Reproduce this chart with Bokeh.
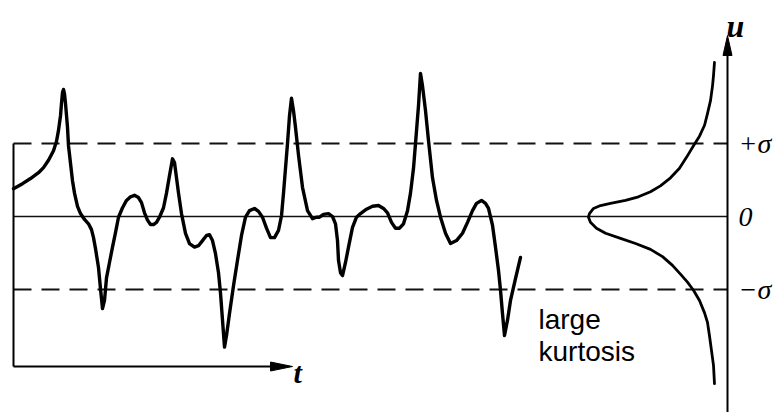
from bokeh.plotting import figure
from bokeh.models import Range1d
from bokeh.embed import file_html
from bokeh.resources import INLINE
from bokeh.core.properties import value

# ---- data (signal u(t); t in drawing units, u in units of sigma) ----
sig_t = [13, 22, 30, 38, 43, 48, 53, 56, 58, 60,
         61, 62, 63, 64, 65, 67, 68, 70, 72, 74,
         77, 80, 84, 88, 91, 93, 95, 98, 100, 102,
         104, 106, 109, 112, 115, 118, 122, 126, 130, 134,
         138, 141, 144, 147, 150, 153, 156, 159, 163, 166,
         169, 172, 174, 176, 178, 181, 185, 189, 194, 198,
         202, 206, 209, 212, 215, 218, 220, 222, 224, 226,
         229, 233, 237, 241, 245, 249, 254, 258, 262, 266,
         270, 274, 278, 281, 283, 285, 287, 289, 291, 293,
         295, 298, 302, 307, 312, 316, 319, 323, 328, 332,
         335, 337, 338, 340, 342, 345, 348, 352, 356, 360,
         366, 372, 378, 383, 387, 391, 395, 399, 403, 407,
         410, 413, 415, 418, 420, 422, 425, 428, 432, 436,
         440, 445, 450, 456, 462, 467, 472, 476, 481, 485,
         488, 492, 495, 498, 500, 502, 504, 507, 510, 515,
         520]
sig_u = [0.38, 0.45, 0.52, 0.60, 0.67, 0.77, 0.90, 1.03, 1.18, 1.38,
         1.55, 1.70, 1.74, 1.68, 1.55, 1.22, 0.97, 0.73, 0.49, 0.32,
         0.14, 0.04, -0.04, -0.10, -0.18, -0.29, -0.44, -0.70, -0.99, -1.26,
         -1.15, -0.84, -0.63, -0.42, -0.22, -0.01, 0.12, 0.22, 0.27, 0.29,
         0.26, 0.19, 0.05, -0.05, -0.11, -0.11, -0.08, -0.01, 0.12, 0.32,
         0.56, 0.79, 0.74, 0.53, 0.32, 0.04, -0.23, -0.37, -0.42, -0.40,
         -0.33, -0.26, -0.25, -0.33, -0.51, -0.77, -1.05, -1.42, -1.79, -1.63,
         -1.33, -0.95, -0.60, -0.26, -0.01, 0.08, 0.11, 0.07, -0.01, -0.16,
         -0.29, -0.29, -0.19, 0.01, 0.32, 0.66, 1.00, 1.38, 1.62, 1.45,
         1.22, 0.84, 0.40, 0.08, -0.03, -0.01, -0.01, 0.03, 0.04, 0.00,
         -0.10, -0.33, -0.60, -0.77, -0.81, -0.63, -0.42, -0.15, -0.01, 0.04,
         0.10, 0.14, 0.15, 0.11, 0.05, -0.08, -0.16, -0.16, -0.10, 0.08,
         0.32, 0.66, 1.00, 1.52, 1.96, 1.79, 1.45, 1.04, 0.53, 0.22,
         -0.01, -0.23, -0.37, -0.33, -0.23, -0.08, 0.08, 0.18, 0.22, 0.18,
         0.11, -0.12, -0.42, -0.74, -1.01, -1.33, -1.63, -1.42, -1.15, -0.85,
         -0.56]

# probability density of u (relative, peak = 1)
pdf_u = [2.11, 1.93, 1.79, 1.59, 1.41, 1.25, 1.10, 0.97, 0.81, 0.66,
         0.53, 0.42, 0.34, 0.27, 0.22, 0.18, 0.15, 0.11, 0.04, -0.01,
         -0.08, -0.16, -0.23, -0.30, -0.37, -0.45, -0.55, -0.67, -0.79, -0.90,
         -1.01, -1.15, -1.32, -1.45, -1.63, -1.84, -2.04, -2.29]
pdf_p = [0.093, 0.100, 0.107, 0.121, 0.143, 0.164, 0.200, 0.243, 0.293, 0.343,
         0.407, 0.479, 0.550, 0.636, 0.729, 0.836, 0.907, 0.957, 0.986, 0.993,
         0.979, 0.936, 0.871, 0.764, 0.657, 0.550, 0.464, 0.393, 0.336, 0.286,
         0.243, 0.200, 0.164, 0.143, 0.129, 0.114, 0.100, 0.093]

sigma_levels = [1.0, -1.0]
level_labels = ["+σ", "0", "−σ"]
level_values = [1.0, 0.0, -1.0]

# ---- layout constants ----
W, H = 774, 412
PX = 73.0                 # pixels per sigma
U_TOP = 216 / PX
U_BOT = (216 - H) / PX
T0, T_END = 13, 292       # time axis
U_AXIS_X = 727            # u axis position
PDF_SCALE = 140           # width of pdf at peak
T_AXIS_U = (216 - 366) / PX

p = figure(width=W, height=H, output_backend="svg", toolbar_location=None,
           x_range=Range1d(0, W), y_range=Range1d(U_BOT, U_TOP), min_border=0,
           x_axis_location=None, y_axis_location=None)
p.grid.visible = False
p.outline_line_color = None
p.background_fill_color = "white"
p.border_fill_color = "white"

# sigma lines (dashed) and zero line
for s in sigma_levels:
    p.line([T0, U_AXIS_X], [s, s], line_color="#111111", line_width=2, line_dash="18 10")
p.line([T0, U_AXIS_X], [0, 0], line_color="#111111", line_width=1.6)

# left frame and time axis
p.line([T0, T0], [T_AXIS_U, 1.0], line_color="black", line_width=2)
p.line([T0, T_END - 16], [T_AXIS_U, T_AXIS_U], line_color="black", line_width=2)
hw = 4.5 / PX
p.patch([T_END, T_END - 22, T_END - 22], [T_AXIS_U, T_AXIS_U + hw, T_AXIS_U - hw], color="black")

# u axis
u_tip = (216 - 35) / PX
p.line([U_AXIS_X, U_AXIS_X], [U_BOT, u_tip - 15 / PX], line_color="black", line_width=2)
p.patch([U_AXIS_X, U_AXIS_X - 4.5, U_AXIS_X + 4.5], [u_tip, u_tip - 20 / PX, u_tip - 20 / PX], color="black")

# signal
p.line(sig_t, sig_u, line_color="black", line_width=3.4, line_join="round", line_cap="round")

# pdf
pdf_x = [U_AXIS_X - PDF_SCALE * v for v in pdf_p]
p.line(pdf_x, pdf_u, line_color="black", line_width=2.8, line_join="round", line_cap="round")

# labels
serif = value("Liberation Serif")
p.text(x=[U_AXIS_X + 11] * 3, y=level_values, text=level_labels, text_font=serif,
       text_font_style="italic", text_font_size="28px", text_baseline="middle", text_color="black")
p.text(x=[U_AXIS_X - 1], y=[(216 - 25) / PX], text=["u"], text_font=serif, text_font_style="bold italic",
       text_font_size="32px", text_baseline="alphabetic", text_color="black")
p.text(x=[T_END + 1], y=[(216 - 372) / PX], text=["t"], text_font=serif, text_font_style="bold italic",
       text_font_size="30px", text_baseline="alphabetic", text_color="black")
sans = value("Liberation Sans")
p.text(x=[538, 538], y=[(216 - 319) / PX, (216 - 351) / PX], text=["large", "kurtosis"], text_font=sans,
       text_font_size="28px", text_baseline="alphabetic", text_color="black")

open("out.html", "w").write(file_html(p, INLINE))
